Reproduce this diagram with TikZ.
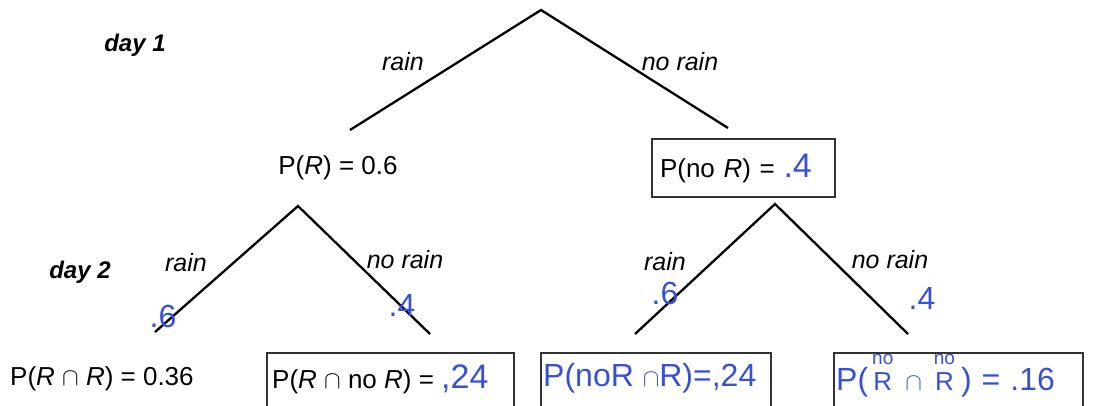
\documentclass[tikz,border=0pt]{standalone}
\usepackage{fontspec}
\setmainfont{Liberation Sans}
\newfontfamily\handfont{Liberation Sans}
\usepackage{xcolor}
\usepackage{tikz}
\usetikzlibrary{positioning}
\definecolor{inkblue}{RGB}{55,80,215}
\tikzset{every node/.style={font=\fontsize{26}{30}\selectfont}}
\newcommand{\hw}[1]{{\color{inkblue}\handfont\fontsize{34}{36}\selectfont #1}}
\newcommand{\stk}[2]{\shortstack{\fontsize{19}{19}\selectfont #1\\[4pt]\fontsize{26}{26}\selectfont #2}}

\begin{document}
\begin{tikzpicture}[x=1pt, y=-1pt,
  branch/.style={line width=2.3pt, black},
  lbl/.style={font=\fontsize{25}{30}\selectfont\itshape},
  daylbl/.style={font=\fontsize{24}{30}\selectfont\bfseries\itshape},
  probbox/.style={draw=black!80, line width=1.6pt},
  ink/.style={text=inkblue, font=\handfont\fontsize{32}{34}\selectfont}]

\useasboundingbox (0,0) rectangle (1107,405);
\clip (0,0) rectangle (1107,405);

% day labels
\node[daylbl] (day1) at (135,45) {day 1};
\node[daylbl] (day2) at (80,272) {day 2};

% first day
\coordinate (top) at (541,10);
\coordinate (rainend) at (350,130);
\coordinate (dryend) at (728,128);
\draw[branch] (rainend) -- (top) -- (dryend);
\node[lbl] (rain1) at (403,62) {rain};
\node[lbl] (dry1) at (680,62) {no rain};

\node (pR) at (338,168) {P(\textit{R}) = 0.6};
\node[probbox, minimum width=183pt, minimum height=58pt, text width=167pt,
  inner xsep=8pt, align=left] (pnoR) at (743.5,168) {P(no \textit{R}) = \hw{.4}};

% second day, after rain
\coordinate (ltop) at (298,206);
\coordinate (lrain) at (155,332);
\coordinate (ldry) at (430,334);
\draw[branch] (lrain) -- (ltop) -- (ldry);
\node[lbl] (rain2) at (186,263) {rain};
\node[lbl] (dry2) at (405,260) {no rain};
\node[ink] (p2a) at (163,316) {.6};
\node[ink] (p2b) at (402,305) {.4};

% second day, after no rain
\coordinate (rtop) at (775,204);
\coordinate (rrain) at (635,334);
\coordinate (rdry) at (908,334);
\draw[branch] (rrain) -- (rtop) -- (rdry);
\node[lbl] (rain3) at (665,262) {rain};
\node[lbl] (dry3) at (890,260) {no rain};
\node[ink] (p3a) at (665,293) {.6};
\node[ink] (p3b) at (922,298) {.4};

% joint probabilities
\node[anchor=west, inner sep=0pt] (pRR) at (10,379) {P(\textit{R} $\cap$ \textit{R}) = 0.36};

\draw[probbox] (267,353) rectangle (514,440);
\node[anchor=west, inner sep=0pt] (pRnoR) at (272,379) {P(\textit{R} $\cap$ no \textit{R}) = \hw{,24}};

\draw[probbox] (541,353) rectangle (771,440);
\node[ink, anchor=west, inner sep=0pt] (pnoRR) at (543,378) {P(noR $\cap$R)=,24};

\draw[probbox] (834,353) rectangle (1083,440);
\node[ink, anchor=base west, inner sep=0pt] (pnoRnoR) at (836,390)
  {P(\hspace{4pt}\stk{no}{R}\hspace{12pt}{\fontsize{40}{40}\selectfont$\cap$}\hspace{12pt}\stk{no}{R}\hspace{6pt})\hspace{10pt}=\hspace{10pt}.16};

\end{tikzpicture}
\end{document}
